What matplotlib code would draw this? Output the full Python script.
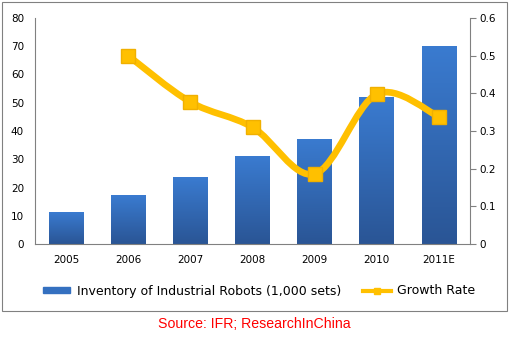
import numpy as np
import matplotlib.pyplot as plt
from matplotlib.path import Path
from matplotlib.patches import PathPatch, Rectangle
from matplotlib.lines import Line2D

years = ["2005", "2006", "2007", "2008", "2009", "2010", "2011E"]
inventory = [11.3, 17.3, 23.7, 31.1, 37.2, 52.0, 70.0]
growth_years = ["2006", "2007", "2008", "2009", "2010", "2011E"]
growth = [0.50, 0.377, 0.31, 0.186, 0.398, 0.338]

bar_color = "#3470c0"
line_color = "#FFC000"
grey = "#808080"

fig = plt.figure(figsize=(5.19, 3.38), dpi=100)
ax = fig.add_axes([35 / 519, 94 / 338, 435 / 519, 226 / 338])

x = np.arange(len(years))
bars = ax.bar(x, inventory, width=0.56, color=bar_color, zorder=2)

# vertical gradient on the bars
grad = np.linspace(0, 1, 256).reshape(-1, 1)
cmap = plt.matplotlib.colors.LinearSegmentedColormap.from_list("b", ["#2a5595", "#3a7bd0"])
for b in bars:
    bx, by = b.get_x(), b.get_y()
    w, h = b.get_width(), b.get_height()
    im = ax.imshow(grad, extent=[bx, bx + w, by, by + h], origin="lower",
                   aspect="auto", cmap=cmap, zorder=2)
    im.set_clip_path(b)

ax.set_xlim(-0.5, len(years) - 0.5)
ax.set_ylim(0, 80)
ax.set_yticks(range(0, 81, 10))
ax.set_xticks(x)
ax.set_xticklabels(years)
ax.tick_params(axis="y", length=0, labelsize=7.5, pad=8)
ax.tick_params(axis="x", length=0, labelsize=7.5, pad=8)
for s in ["top", "right"]:
    ax.spines[s].set_visible(False)
for s in ["left", "bottom"]:
    ax.spines[s].set_color(grey)

ax2 = ax.twinx()
ax2.set_ylim(0, 0.6)
ax2.set_yticks(np.arange(0, 0.61, 0.1))
ax2.set_yticklabels(["0", "0.1", "0.2", "0.3", "0.4", "0.5", "0.6"])
ax2.tick_params(axis="y", length=4, color=grey, labelsize=7.5, pad=3)
for s in ["top", "left", "bottom"]:
    ax2.spines[s].set_visible(False)
ax2.spines["right"].set_color(grey)

# smooth line through the growth points (Catmull-Rom as Bezier segments)
gx = np.array([years.index(y) for y in growth_years], dtype=float)
gy = np.array(growth)
pts = np.column_stack([gx, gy])
verts = [pts[0]]
codes = [Path.MOVETO]
n = len(pts)
t = 1 / 6
for i in range(n - 1):
    p0 = pts[i - 1] if i > 0 else pts[i]
    p1 = pts[i]
    p2 = pts[i + 1]
    p3 = pts[i + 2] if i + 2 < n else pts[i + 1]
    c1 = p1 + (p2 - p0) * t
    c2 = p2 - (p3 - p1) * t
    verts += [c1, c2, p2]
    codes += [Path.CURVE4] * 3
ax2.add_patch(PathPatch(Path(verts, codes), fill=False, edgecolor=line_color,
                        lw=4.8, capstyle="round", joinstyle="round", zorder=3))
ax2.plot(gx, gy, ls="none", marker="s", ms=9.5, color=line_color,
         mec="#f0b000", zorder=4)

handles = [Rectangle((0, 0), 1, 1, color=bar_color),
           Line2D([], [], color=line_color, lw=3, marker="s", ms=5)]
fig.legend(handles, ["Inventory of Industrial Robots (1,000 sets)", "Growth Rate"],
           loc="center", bbox_to_anchor=(259 / 519, 1 - 291 / 338), ncol=2,
           frameon=False, fontsize=9, handlelength=2.2, handleheight=0.35,
           columnspacing=1.8, handletextpad=0.5)

fig.add_artist(Rectangle((2 / 519, 27 / 338), 505 / 519, 309 / 338,
                         transform=fig.transFigure, fill=False,
                         edgecolor=grey, lw=0.8))
fig.text(254 / 519, 1 - 324 / 338, "Source: IFR; ResearchInChina", color="red",
         ha="center", va="center", fontsize=10.2, family="Liberation Sans")

fig.savefig("out.png", dpi=100)
